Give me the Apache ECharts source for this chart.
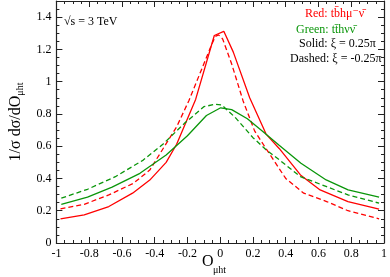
<!DOCTYPE html>
<html>
<head>
<meta charset="utf-8">
<script src="https://cdn.jsdelivr.net/npm/echarts@6/dist/echarts.min.js"></script>
<style>
html,body{margin:0;padding:0;background:#fff;}
#c{width:390px;height:277px;}
</style>
</head>
<body>
<div id="c"></div>
<script>
// Red: t b̄ h μ⁻ ν̄, xi = 0.25π (solid)
const redSolidX = [-0.975, -0.83, -0.68, -0.535, -0.43, -0.33, -0.266, -0.15, -0.036, 0.022, 0.08, 0.18, 0.28, 0.36, 0.49, 0.61, 0.78, 0.97];
const redSolidY = [0.15, 0.175, 0.226, 0.309, 0.39, 0.50, 0.612, 0.89, 1.286, 1.312, 1.183, 0.90, 0.675, 0.586, 0.422, 0.329, 0.257, 0.21];
// Red, xi = -0.25π (dashed)
const redDashX = [-0.975, -0.83, -0.68, -0.53, -0.43, -0.266, -0.19, -0.05, -0.03, -0.01, 0.015, 0.07, 0.14, 0.21, 0.28, 0.40, 0.51, 0.65, 0.78, 0.97];
const redDashY = [0.212, 0.24, 0.298, 0.37, 0.452, 0.72, 0.885, 1.235, 1.28, 1.29, 1.265, 1.11, 0.88, 0.695, 0.585, 0.40, 0.309, 0.257, 0.20, 0.15];
// Green: t t̄ h ν ν̄, xi = 0.25π (solid)
const greenSolidX = [-0.97, -0.81, -0.66, -0.49, -0.33, -0.2, -0.084, 0.003, 0.07, 0.166, 0.262, 0.358, 0.493, 0.647, 0.781, 0.97];
const greenSolidY = [0.24, 0.284, 0.346, 0.432, 0.545, 0.665, 0.79, 0.838, 0.827, 0.77, 0.69, 0.607, 0.494, 0.391, 0.329, 0.285];
// Green, xi = -0.25π (dashed)
const greenDashX = [-0.97, -0.81, -0.64, -0.47, -0.35, -0.22, -0.1, -0.03, 0.01, 0.09, 0.2, 0.28, 0.36, 0.49, 0.65, 0.78, 0.97];
const greenDashY = [0.278, 0.333, 0.411, 0.514, 0.612, 0.74, 0.845, 0.86, 0.855, 0.78, 0.653, 0.578, 0.516, 0.411, 0.349, 0.298, 0.247];

const xTickLabels = ['-1', '-0.8', '-0.6', '-0.4', '-0.2', '0', '0.2', '0.4', '0.6', '0.8', '1'];
const yTickLabels = ['0', '0.2', '0.4', '0.6', '0.8', '1', '1.2', '1.4'];

const RED = '#ff0000';
const GREEN = '#0a960a';
const FONT = '"Liberation Serif", "DejaVu Serif", serif';

function pairs(xs, ys) { return xs.map((x, i) => [x, ys[i]]); }
function fmtX(v) {
  const idx = Math.round((v + 1) / 0.2);
  return (Math.abs(v - (-1 + idx * 0.2)) < 1e-6 && xTickLabels[idx] !== undefined) ? xTickLabels[idx] : '';
}
function fmtY(v) {
  const idx = Math.round(v / 0.2);
  return (Math.abs(v - idx * 0.2) < 1e-6 && yTickLabels[idx] !== undefined) ? yTickLabels[idx] : '';
}

const axisCommon = {
  axisLine: { show: true, onZero: false, lineStyle: { color: '#222', width: 1.2 } },
  axisTick: { show: true, inside: true, length: 6, lineStyle: { color: '#222', width: 1 } },
  minorTick: { show: true, splitNumber: 4, length: 3, lineStyle: { color: '#222', width: 1 } },
  splitLine: { show: false },
  minorSplitLine: { show: false }
};

const chart = echarts.init(document.getElementById('c'), null, { renderer: 'canvas' });

function line(name, xs, ys, color, dashed) {
  return {
    name, type: 'line', xAxisIndex: 0, yAxisIndex: 0,
    data: pairs(xs, ys), showSymbol: false, symbol: 'none', smooth: false,
    lineStyle: { color, width: 1.3, type: dashed ? [5, 3] : 'solid' },
    animation: false, z: 3
  };
}

chart.setOption({
  backgroundColor: '#fff',
  animation: false,
  grid: { left: 41, right: 2, top: 1, bottom: 34 },
  xAxis: [
    Object.assign({}, axisCommon, {
      type: 'value', min: -1, max: 1, interval: 0.2, position: 'bottom',
      axisLabel: { show: true, formatter: fmtX, color: '#000', fontFamily: FONT, fontSize: 12, margin: 5, showMaxLabel: true, showMinLabel: true }
    }),
    Object.assign({}, axisCommon, {
      type: 'value', min: -1, max: 1, interval: 0.2, position: 'top',
      axisLabel: { show: false }
    })
  ],
  yAxis: [
    Object.assign({}, axisCommon, {
      type: 'value', min: 0, max: 1.5, interval: 0.2, position: 'left',
      axisLabel: { show: true, formatter: fmtY, color: '#000', fontFamily: FONT, fontSize: 12, margin: 5 },
      name: '{n|1/σ dσ/dO}{s|μht}', nameLocation: 'middle', nameGap: 22, nameRotate: 90,
      nameTextStyle: { rich: {
        n: { fontFamily: FONT, fontSize: 16, color: '#000' },
        s: { fontFamily: FONT, fontSize: 10, color: '#000', padding: [0, 0, -9, 0] }
      } }
    }),
    Object.assign({}, axisCommon, {
      type: 'value', min: 0, max: 1.5, interval: 0.2, position: 'right',
      axisLabel: { show: false }
    })
  ],
  series: [
    line('red solid', redSolidX, redSolidY, RED, false),
    line('red dashed', redDashX, redDashY, RED, true),
    line('green solid', greenSolidX, greenSolidY, GREEN, false),
    line('green dashed', greenDashX, greenDashY, GREEN, true)
  ],
  graphic: [
    { type: 'text', left: 202, top: 254, style: { text: 'O', fontFamily: FONT, fontSize: 16, fill: '#000' } },
    { type: 'text', left: 213, top: 265, style: { text: 'μht', fontFamily: FONT, fontSize: 10, fill: '#000' } },
    { type: 'text', left: 64, top: 16, style: { text: '√s = 3 TeV', fontFamily: FONT, fontSize: 12, fill: '#000' } },
    { type: 'text', left: 305, top: 8, style: { text: 'Red: tb\u0304hμ\u207Bν\u0304', fontFamily: FONT, fontSize: 12, fill: RED } },
    { type: 'text', left: 296, top: 24, style: { text: 'Green: tt\u0304hνν\u0304', fontFamily: FONT, fontSize: 12, fill: GREEN } },
    { type: 'text', left: 299, top: 38, style: { text: 'Solid: ξ = 0.25π', fontFamily: FONT, fontSize: 12, fill: '#000' } },
    { type: 'text', left: 290, top: 53, style: { text: 'Dashed: ξ = -0.25π', fontFamily: FONT, fontSize: 12, fill: '#000' } }
  ]
});
</script>
</body>
</html>
